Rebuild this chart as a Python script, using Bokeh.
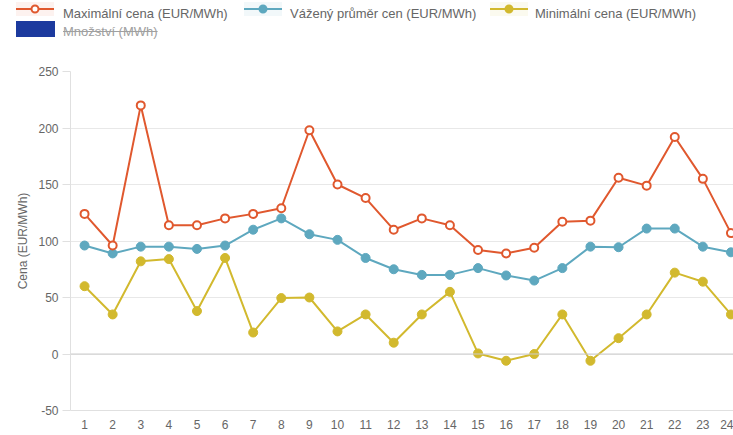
from bokeh.plotting import figure
from bokeh.layouts import column
from bokeh.models import (FixedTicker, Span, Range1d, ColumnDataSource, Div)
from bokeh.embed import file_html
from bokeh.resources import INLINE

# ---- data ----
hours = list(range(1, 25))
max_price = [124, 96, 220, 114, 114, 120, 124, 129, 198, 150, 138, 110,
             120, 114, 92, 89, 94, 117, 118, 156, 149, 192, 155, 107]
avg_price = [96, 89, 95, 95, 93, 96, 110, 120, 106, 101, 85, 75,
             70, 70, 76, 69.5, 65, 76, 95, 94.5, 111, 111, 95, 90]
min_price = [60, 35, 82, 84, 38, 85, 19, 49.5, 50, 20, 35, 10,
             35, 55, 0.5, -6, 0, 35, -6, 14, 35, 72, 64, 35]
quantity_hours = []   # series hidden (struck through) in the reference chart
quantity = []
y_ticks = [-50, 0, 50, 100, 150, 200, 250]
y_tick_labels = ["-50", "0", "50", "100", "150", "200", "250"]

label_max = "Maximální cena (EUR/MWh)"
label_avg = "Vážený průměr cen (EUR/MWh)"
label_min = "Minimální cena (EUR/MWh)"
label_qty = "Množství (MWh)"

c_max = "#e0582e"
c_avg = "#5ea8bf"
c_min = "#d2b92e"
c_qty = "#1c3a9e"
FONT = "Liberation Sans"
W = 733
HEAD_H = 44
MAIN_H = 391

# ---------------- main chart ----------------
p = figure(width=W, height=MAIN_H, output_backend="svg", toolbar_location=None,
           x_range=Range1d(0.5, 24.09), y_range=Range1d(-50, 250),
           min_border_left=70, min_border_right=0, min_border_top=27,
           min_border_bottom=25)
p.outline_line_color = None
p.background_fill_color = "white"
p.border_fill_color = "white"

src = ColumnDataSource(dict(h=hours, mx=max_price, av=avg_price, mn=min_price))
qsrc = ColumnDataSource(dict(h=quantity_hours, q=quantity))

p.vbar(x="h", top="q", width=0.8, source=qsrc, fill_color=c_qty, line_color=c_qty)

p.line("h", "mn", source=src, line_color=c_min, line_width=2)
p.scatter("h", "mn", source=src, size=9, marker="circle",
          fill_color=c_min, line_color=c_min, line_width=1)
p.line("h", "av", source=src, line_color=c_avg, line_width=2)
p.scatter("h", "av", source=src, size=9, marker="circle",
          fill_color=c_avg, line_color=c_avg, line_width=1)
p.line("h", "mx", source=src, line_color=c_max, line_width=2)
p.scatter("h", "mx", source=src, size=8, marker="circle",
          fill_color="white", line_color=c_max, line_width=2)

p.add_layout(Span(location=0, dimension="width", line_color="#cccccc", line_width=1))

p.xgrid.visible = False
p.ygrid.ticker = FixedTicker(ticks=y_ticks)
p.ygrid.grid_line_color = "#e8e8e8"

p.yaxis.ticker = FixedTicker(ticks=y_ticks)
p.yaxis.major_label_overrides = dict(zip(y_ticks, y_tick_labels))
p.yaxis.axis_line_color = "#e0e0e0"
p.yaxis.major_tick_line_color = "#e0e0e0"
p.yaxis.major_tick_out = 8
p.yaxis.major_tick_in = 0
p.yaxis.minor_tick_line_color = None
p.yaxis.major_label_text_color = "#666666"
p.yaxis.major_label_text_font_size = "12px"
p.yaxis.major_label_text_font = FONT
p.yaxis.major_label_standoff = 4
p.yaxis.axis_label = "Cena (EUR/MWh)"
p.yaxis.axis_label_text_font_style = "normal"
p.yaxis.axis_label_text_font_size = "12px"
p.yaxis.axis_label_text_font = FONT
p.yaxis.axis_label_text_color = "#666666"
p.yaxis.axis_label_standoff = 5

p.xaxis.ticker = FixedTicker(ticks=hours)
p.xaxis.axis_line_color = "#e0e0e0"
p.xaxis.major_tick_out = 0
p.xaxis.major_tick_in = 0
p.xaxis.minor_tick_line_color = None
p.xaxis.major_label_text_color = "#666666"
p.xaxis.major_label_text_font_size = "12px"
p.xaxis.major_label_text_font = FONT
p.xaxis.major_label_standoff = 9

# ---------------- legend header (HTML) ----------------
def line_icon(left, top, color, fill):
    return (f'<svg width="38" height="14" style="position:absolute;left:{left}px;top:{top}px">'
            f'<rect x="0" y="0" width="38" height="14" fill="{color}" fill-opacity="0.08"/>'
            f'<line x1="0" y1="7" x2="38" y2="7" stroke="{color}" stroke-width="2"/>'
            f'<circle cx="19" cy="7" r="3.5" fill="{fill}" stroke="{color}" stroke-width="2"/></svg>')

def text(left, top, s, color, extra=""):
    return (f'<span style="position:absolute;left:{left}px;top:{top}px;line-height:16px;'
            f'white-space:nowrap;color:{color};{extra}">{s}</span>')

html = (f'<div style="position:relative;width:{W}px;height:{HEAD_H}px;'
        f'font-family:\'{FONT}\';font-size:13px;">'
        + line_icon(16, 2, c_max, "white") + text(63, 6, label_max, "#666666")
        + line_icon(244, 2, c_avg, c_avg) + text(290, 6, label_avg, "#666666")
        + line_icon(490, 2, c_min, c_min) + text(535, 6, label_min, "#666666")
        + f'<div style="position:absolute;left:16px;top:21px;width:39px;height:16px;background:{c_qty}"></div>'
        + text(63, 24, label_qty, "#a0a0a0",
               "text-decoration:line-through;text-decoration-color:#a0a0a0;")
        + '</div>')

header = Div(text=html, width=W, height=HEAD_H, margin=0)

open("out.html", "w").write(file_html(column(header, p, spacing=0), INLINE))
